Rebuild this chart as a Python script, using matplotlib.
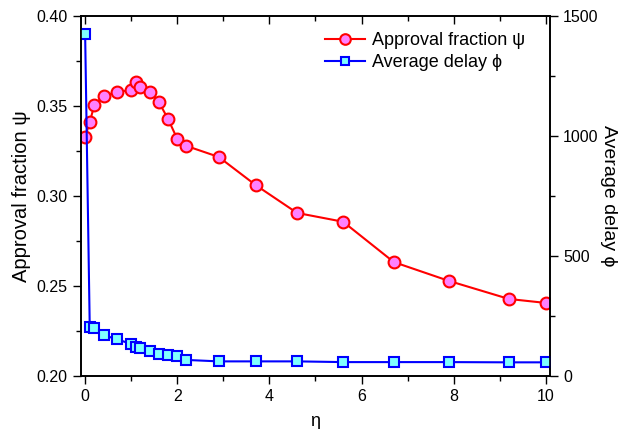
import numpy as np
import matplotlib
matplotlib.use("Agg")
import matplotlib.pyplot as plt
from matplotlib.ticker import MultipleLocator

plt.rcParams['font.family'] = ['Liberation Sans', 'DejaVu Sans']

eta = [0.0, 0.1, 0.2, 0.4, 0.7, 1.0, 1.1, 1.2, 1.4, 1.6, 1.8, 2.0, 2.2,
       2.9, 3.7, 4.6, 5.6, 6.7, 7.9, 9.2, 10.0]
approval = [0.3328, 0.341, 0.3506, 0.3556, 0.3578, 0.3589, 0.3633, 0.3606,
            0.3578, 0.3522, 0.3428, 0.3317, 0.3278, 0.3217, 0.3061, 0.2906,
            0.2857, 0.2633, 0.2528, 0.2428, 0.2406]
delay = [1425, 205, 200, 170, 153, 133, 122, 117, 105, 92, 86, 83, 67,
         61, 61, 61, 58, 58, 58, 57, 57]

fig = plt.figure(figsize=(6.22, 4.29), dpi=100)
ax = fig.add_axes([0.1302, 0.1235, 0.754, 0.8392])
ax2 = ax.twinx()

l1, = ax.plot(eta, approval, '-o', color='red', lw=1.5, ms=8.5,
              mfc='#ff80ff', mec='red', mew=1.5, label='Approval fraction ψ')
l2, = ax2.plot(eta, delay, '-s', color='blue', lw=1.5, ms=7,
               mfc='#80ffff', mec='blue', mew=1.5, label='Average delay ϕ')

ax.set_xlim(-0.09, 10.09)
ax.set_ylim(0.20, 0.40)
ax2.set_ylim(0, 1500)

ax.xaxis.set_major_locator(MultipleLocator(2))
ax.xaxis.set_minor_locator(MultipleLocator(1))
ax.yaxis.set_major_locator(MultipleLocator(0.05))
ax.yaxis.set_minor_locator(MultipleLocator(0.025))
ax2.yaxis.set_major_locator(MultipleLocator(500))
ax2.yaxis.set_minor_locator(MultipleLocator(250))
ax.yaxis.set_major_formatter(plt.FormatStrFormatter('%.2f'))

ax.tick_params(axis='x', which='both', direction='out', top=True, labelsize=11.5)
ax.tick_params(axis='y', which='both', direction='out', labelsize=11.5)
ax.tick_params(which='major', length=6, width=1)
ax.tick_params(which='minor', length=3.5, width=1)
ax2.tick_params(which='major', length=6, width=1, labelsize=11.5)
ax2.tick_params(which='minor', length=3.5, width=1)

# top ticks point inward
for t in ax.xaxis.get_major_ticks() + ax.xaxis.get_minor_ticks():
    t.tick2line.set_marker(3)

for a in (ax, ax2):
    for s in a.spines.values():
        s.set_linewidth(1.2)

ax.set_xlabel('η', fontsize=13, labelpad=6)
ax.set_ylabel('Approval fraction ψ', fontsize=14.5)
ax2.set_ylabel('Average delay ϕ', fontsize=14, rotation=270, labelpad=13)

ax.legend([l1, l2], [l1.get_label(), l2.get_label()], loc='upper left',
          bbox_to_anchor=(0.52, 0.955), frameon=False, fontsize=13,
          handlelength=2.2, handletextpad=0.4, borderpad=0, borderaxespad=0,
          labelspacing=0.28, markerscale=0.9)

fig.savefig('out.png', dpi=100)
